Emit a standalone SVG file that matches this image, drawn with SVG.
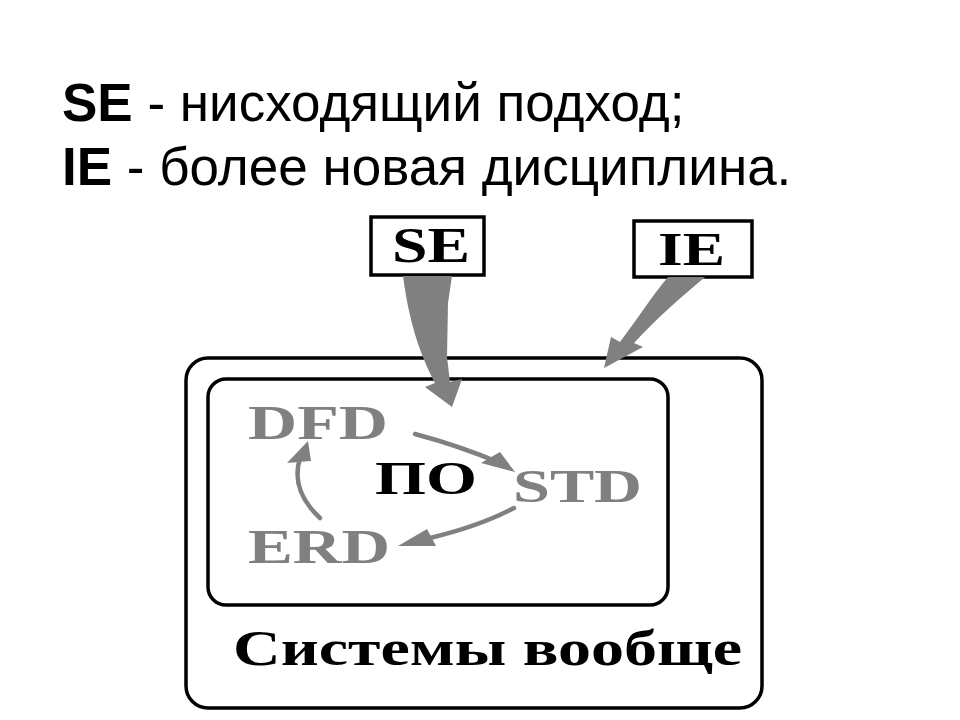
<svg xmlns="http://www.w3.org/2000/svg" width="960" height="720" viewBox="0 0 960 720">
<style>
.title{font-family:"Liberation Sans",Arial,sans-serif;font-size:53px;fill:#000}
.b{font-weight:bold}
.lbl{font-family:"Liberation Serif","Times New Roman",serif;font-weight:bold}
.gray{fill:#808080}
.blk{fill:#000}
.frame{fill:none;stroke:#000;stroke-width:3.5}
.big{fill:#808080;stroke:none}
.thin{fill:none;stroke:#808080;stroke-width:4.5;stroke-linecap:round}
.head{fill:#808080}
</style>
<rect width="960" height="720" fill="#fff"/>
<g id="title">
<text class="title" x="62" y="121"><tspan class="b">SE</tspan> - нисходящий подход;</text>
<text class="title" x="62" y="185"><tspan class="b">IE</tspan> - более новая дисциплина.</text>
</g>
<g id="outer">
<rect class="frame" x="186" y="358" width="576" height="350" rx="22" ry="22"/>
<text class="lbl blk" x="233" y="665" font-size="50" textLength="509" lengthAdjust="spacingAndGlyphs">Системы вообще</text>
</g>
<g id="inner">
<rect class="frame" x="208" y="379" width="460" height="226" rx="18" ry="18"/>
</g>
<g id="se-box">
<rect class="frame" x="371" y="217" width="113" height="58"/>
<text class="lbl blk" x="392" y="262" font-size="50" textLength="78" lengthAdjust="spacingAndGlyphs">SE</text>
</g>
<g id="ie-box">
<rect class="frame" x="634" y="221" width="118" height="56"/>
<text class="lbl blk" x="658" y="265" font-size="47" textLength="67" lengthAdjust="spacingAndGlyphs">IE</text>
</g>
<g id="dfd"><text class="lbl gray" x="248" y="439" font-size="49" textLength="140" lengthAdjust="spacingAndGlyphs">DFD</text></g>
<g id="std"><text class="lbl gray" x="513" y="502" font-size="47" textLength="129" lengthAdjust="spacingAndGlyphs">STD</text></g>
<g id="erd"><text class="lbl gray" x="248" y="563" font-size="48" textLength="142" lengthAdjust="spacingAndGlyphs">ERD</text></g>
<g id="po"><text class="lbl blk" x="375" y="494" font-size="47" textLength="102" lengthAdjust="spacingAndGlyphs">ПО</text></g>
<g id="connectors">
<path class="big" d="M403,276 L452,276 L448,303 L447,357 L450,382 L462,379 L452,407 L425,387 L435,383 C424,362 410,330 403,276 Z"/>
<path class="big" d="M668,277 L705,277 C680,298 655,320 634,343 L643,347 L604,368 L611,337 L620,342 C638,318 652,296 668,277 Z"/>
<path class="thin" d="M415,434 Q460,446 500,463"/>
<path class="head" d="M515,472 L481,463 L500,452 Z"/>
<path class="thin" d="M514,508 Q480,526 430,538"/>
<path class="head" d="M398,546 L427,529 L436,546 Z"/>
<path class="thin" d="M320,518 Q290,490 300,458"/>
<path class="head" d="M308,441 L287,463 L311,461 Z"/>
</g>
</svg>
